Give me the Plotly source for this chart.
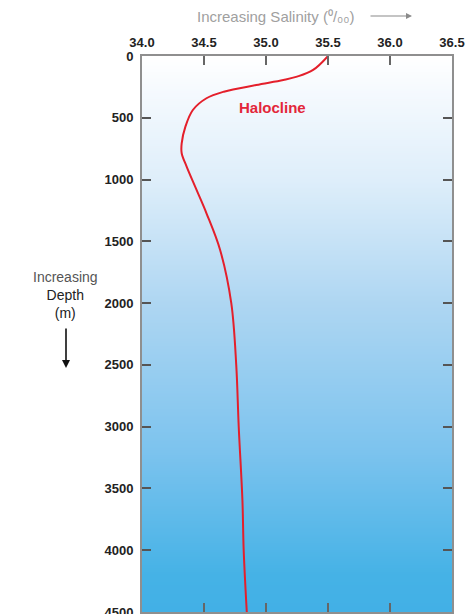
import plotly.graph_objects as go

# Salinity profile
depth_m = [0, 113, 167, 194, 235, 289, 342, 437, 572, 707, 787, 895, 1084, 1273, 1570,
           2000, 2500, 3000, 3600, 4000, 4500]
salinity = [35.50, 35.38, 35.25, 35.14, 34.92, 34.66, 34.52, 34.41, 34.35, 34.32, 34.32,
            34.36, 34.44, 34.52, 34.63, 34.72, 34.76, 34.78, 34.81, 34.82, 34.845]

x_ticks = [34.0, 34.5, 35.0, 35.5, 36.0, 36.5]
y_ticks = [0, 500, 1000, 1500, 2000, 2500, 3000, 3500, 4000, 4500]

# background gradient stops (depth -> colour)
grad_depth = [0, 250, 1000, 2000, 3200, 4200, 4500]
grad_color = ["#ffffff", "#f6fafe", "#deeefa", "#aed6f2", "#7cc3ee", "#45b2e6", "#42b0e6"]

FONT = "Liberation Sans"

fig = go.Figure()

cs = [[d / 4500, c] for d, c in zip(grad_depth, grad_color)]
fig.add_trace(go.Heatmap(
    x=[34.0, 36.5], y=grad_depth, z=[[d, d] for d in grad_depth],
    colorscale=cs, zmin=0, zmax=4500, showscale=False, zsmooth="best",
    hoverinfo="skip"))

fig.add_trace(go.Scatter(
    x=salinity, y=depth_m, mode="lines",
    line=dict(color="#e41f2b", width=2, shape="spline", smoothing=1.0),
    showlegend=False))

fig.add_annotation(x=35.05, y=413, text="<b>Halocline</b>", showarrow=False,
                   xanchor="center", yanchor="middle",
                   font=dict(family=FONT, size=15, color="#e3263a"))

# title above plot (paper coords: plot spans x 142..452, y 56..612 px)
fig.add_annotation(xref="paper", yref="paper", x=(276 - 142) / 310, y=1 + (56 - 17) / 556,
                   xanchor="center", yanchor="middle",
                   text="Increasing Salinity (⁰/₀₀)", showarrow=False,
                   font=dict(family=FONT, size=15, color="#a0a0a0"))
fig.add_annotation(xref="paper", yref="paper", x=(412 - 142) / 310, y=1 + (56 - 16) / 556,
                   ax=-43, ay=0, text="", showarrow=True, arrowhead=2, arrowsize=1,
                   arrowwidth=1.2, arrowcolor="#8a8a8a")

# left depth label
fig.add_annotation(xref="paper", yref="paper", x=(65 - 142) / 310,
                   y=1 - (295 - 56) / 556,
                   text="<span style='color:#555555'>Increasing</span><br>Depth<br>(m)",
                   showarrow=False, xanchor="center", yanchor="middle", align="center",
                   font=dict(family=FONT, size=14, color="#222222"))
fig.add_annotation(xref="paper", yref="paper", x=(66 - 142) / 310, y=1 - (368 - 56) / 556,
                   ax=0, ay=-41, text="", showarrow=True, arrowhead=2, arrowsize=1,
                   arrowwidth=1.6, arrowcolor="#111111")

fig.update_xaxes(range=[34.0, 36.5], side="top", tickvals=x_ticks,
                 ticktext=[f"{v:.1f}" for v in x_ticks],
                 ticks="inside", ticklen=9, tickwidth=2, tickcolor="#666666",
                 showline=True, linecolor="#8f8f8f", linewidth=2, mirror="ticks",
                 showgrid=False, zeroline=False, ticklabelstandoff=2,
                 ticklabeloverflow="allow", automargin=False,
                 tickfont=dict(family=FONT, size=13, color="#222222", weight="bold"))
fig.update_yaxes(range=[4500, 0], tickvals=y_ticks,
                 ticks="inside", ticklen=9, tickwidth=2, tickcolor="#555555",
                 showline=True, linecolor="#8f8f8f", linewidth=2, mirror="ticks",
                 showgrid=False, zeroline=False, ticklabelstandoff=4,
                 ticklabeloverflow="allow", automargin=False,
                 tickfont=dict(family=FONT, size=13, color="#222222", weight="bold"))

fig.update_layout(width=468, height=614, margin=dict(l=142, r=16, t=56, b=2),
                  paper_bgcolor="#ffffff", plot_bgcolor="#ffffff", showlegend=False)

fig.write_html("out.html", config={"displayModeBar": False},
               post_script="document.body.style.margin='0';")
